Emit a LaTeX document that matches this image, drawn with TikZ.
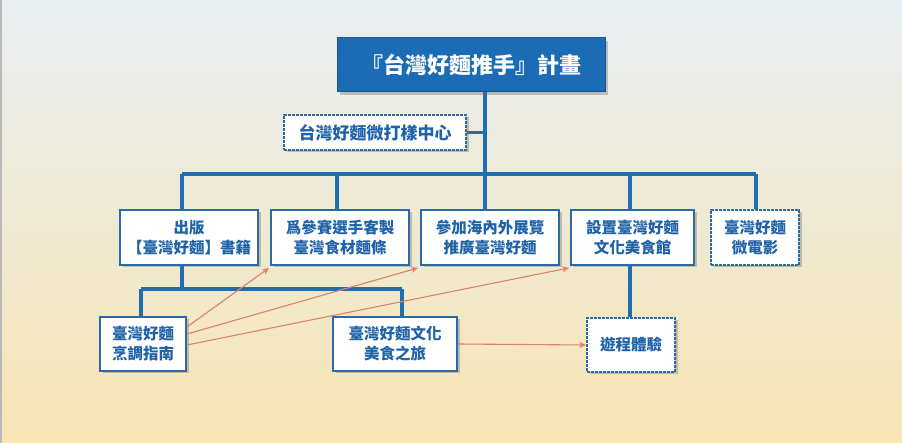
\documentclass[tikz,border=0pt]{standalone}
\usepackage{fontspec}
\newfontfamily\cjk{Noto Sans CJK TC}
\usetikzlibrary{shadows,arrows.meta,calc,backgrounds}
\pgfdeclarelayer{paper}
\pgfsetlayers{paper,background,main}
\definecolor{bordblue}{HTML}{2B6AA3}
\definecolor{txtblue}{HTML}{2062A8}
\definecolor{lineblue}{HTML}{1F6DB2}
\definecolor{topblue}{HTML}{1B6CB5}
\definecolor{salmon}{HTML}{E0826A}
\definecolor{bgtop}{HTML}{E8EEF2}
\definecolor{bgmid}{HTML}{F6F1D2}
\definecolor{bgbot}{HTML}{F7E5B4}
\tikzset{
  box/.style={draw=bordblue, line width=1.8pt, fill=white, text=txtblue,
    align=center, inner sep=2pt,
    font=\cjk\bfseries\fontsize{15.5}{20}\selectfont,
    drop shadow={shadow xshift=2.5pt, shadow yshift=-2.5pt, opacity=0.35, fill=black!60}},
  dotbox/.style={box, dash pattern=on 3pt off 1pt},
  titlebox/.style={draw=topblue!80!black, line width=1pt, fill=topblue, text=white,
    align=center, font=\cjk\bfseries\fontsize{22}{26}\selectfont,
    drop shadow={shadow xshift=3pt, shadow yshift=-3pt, opacity=0.35, fill=black!60}},
  link/.style={draw=lineblue, line width=3.2pt},
  arr/.style={draw=salmon, line width=1.1pt, -{Stealth[length=7pt,width=6pt]}}
}
\begin{document}
\begin{tikzpicture}[x=1pt,y=-1pt]
\begin{pgfonlayer}{paper}
\shade[top color=bgtop, middle color=bgmid, bottom color=bgbot] (0,0) rectangle (902,443);
\fill[gray!55] (0,0) rectangle (2,443);
\end{pgfonlayer}
\useasboundingbox (0,0) rectangle (902,443);

\node[titlebox, minimum width=268pt, minimum height=54pt] (top) at (471,65) {『台灣好麵推手』計畫};
\node[dotbox, minimum width=182pt, minimum height=35pt, font=\cjk\bfseries\fontsize{17}{20}\selectfont] (center) at (375,132.5) {台灣好麵微打樣中心};

\node[box, minimum width=138pt, minimum height=55pt] (b1) at (189,237.5) {出版\\【臺灣好麵】書籍};
\node[box, minimum width=138pt, minimum height=55pt] (b2) at (340,237.5) {爲參賽選手客製\\臺灣食材麵條};
\node[box, minimum width=138pt, minimum height=55pt] (b3) at (490,237.5) {參加海內外展覽\\推廣臺灣好麵};
\node[box, minimum width=123pt, minimum height=55pt] (b4) at (632.5,237.5) {設置臺灣好麵\\文化美食館};
\node[dotbox, minimum width=88pt, minimum height=55pt] (b5) at (755,237.5) {臺灣好麵\\微電影};

\node[box, minimum width=86pt, minimum height=54pt] (c1) at (143,344) {臺灣好麵\\烹調指南};
\node[box, minimum width=124pt, minimum height=54pt] (c2) at (395,344) {臺灣好麵文化\\美食之旅};
\node[dotbox, minimum width=88pt, minimum height=54pt] (c3) at (631,345) {遊程體驗};

\coordinate (trunk) at (485,174);
\coordinate (barL) at (182,174);
\coordinate (barR) at (756,174);
\coordinate (d2) at (337,174);
\coordinate (d4) at (630,174);
\coordinate (sub) at (182,289);
\coordinate (subL) at (141,289);
\coordinate (subR) at (402,289);

\begin{scope}[on background layer]
\draw[link] (top.south -| trunk) -- (trunk);
\draw[link] (center.east) -- (center.east -| trunk);
\draw[link] (barL) -- (barR);
\draw[link] (barL) -- (barL |- b1.north);
\draw[link] (d2) -- (d2 |- b2.north);
\draw[link] (trunk) -- (trunk |- b3.north);
\draw[link] (d4) -- (d4 |- b4.north);
\draw[link] (barR) -- (barR |- b5.north);
\draw[link] (sub |- b1.south) -- (sub);
\draw[link] (subL) -- (subR);
\draw[link] (subL) -- (subL |- c1.north);
\draw[link] (subR) -- (subR |- c2.north);
\draw[link] (d4 |- b4.south) -- (d4 |- c3.north);
\end{scope}

\coordinate (a1) at (c1.east |- 0,327);
\coordinate (a2) at (c1.east |- 0,334);
\coordinate (a3) at (c1.east |- 0,345);
\draw[arr] (a1) -- ($(b2.south west)+(-1,2)$);
\draw[arr] (a2) -- ($(b3.south west)+(-2,2)$);
\draw[arr] (a3) -- ($(b4.south west)+(-1,2)$);
\draw[arr] (c2.east) -- (c3.west);
\end{tikzpicture}
\end{document}
